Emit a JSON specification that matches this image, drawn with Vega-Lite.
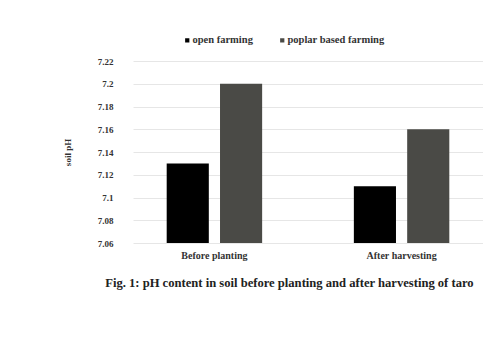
{
  "$schema": "https://vega.github.io/schema/vega-lite/v6.json",
  "width": 350,
  "height": 182,
  "autosize": {"type": "none"},
  "padding": {"left": 133, "top": 61, "right": 0, "bottom": 110},
  "background": "white",
  "data": {
    "values": [
      {"stage": "Before planting", "system": "open farming", "ph": 7.13},
      {"stage": "Before planting", "system": "poplar based farming", "ph": 7.2},
      {"stage": "After harvesting", "system": "open farming", "ph": 7.11},
      {"stage": "After harvesting", "system": "poplar based farming", "ph": 7.16}
    ]
  },
  "title": {
    "text": "Fig. 1: pH content in soil before planting and after harvesting of taro",
    "orient": "bottom",
    "anchor": "start",
    "dx": 42,
    "offset": 17,
    "font": "Liberation Serif",
    "fontSize": 12.6,
    "fontWeight": "bold",
    "color": "#222222"
  },
  "mark": {"type": "bar", "clip": true},
  "encoding": {
    "x": {
      "field": "stage",
      "type": "nominal",
      "sort": ["Before planting", "After harvesting"],
      "scale": {"paddingInner": 0.49, "paddingOuter": 0.18},
      "axis": {
        "title": null,
        "labelAngle": 0,
        "domain": false,
        "ticks": false,
        "labelPadding": 7,
        "labelFont": "Liberation Serif",
        "labelFontSize": 10,
        "labelFontWeight": "bold",
        "labelColor": "#333333"
      }
    },
    "xOffset": {
      "field": "system",
      "type": "nominal",
      "scale": {"paddingInner": 0.21}
    },
    "y": {
      "field": "ph",
      "type": "quantitative",
      "scale": {"domain": [7.06, 7.22], "zero": false, "nice": false},
      "axis": {
        "title": "soil pH",
        "values": [7.06, 7.08, 7.1, 7.12, 7.14, 7.16, 7.18, 7.2, 7.22],
        "format": ".3~r",
        "domain": false,
        "ticks": false,
        "labelPadding": 20,
        "gridColor": "#e6e6e6",
        "gridWidth": 1,
        "labelFont": "Liberation Serif",
        "labelFontSize": 9,
        "labelFontWeight": "bold",
        "labelColor": "#333333",
        "titleFont": "Liberation Serif",
        "titleFontSize": 9,
        "titleFontWeight": "bold",
        "titleColor": "#333333",
        "titlePadding": 25
      }
    },
    "color": {
      "field": "system",
      "type": "nominal",
      "scale": {"domain": ["open farming", "poplar based farming"], "range": ["#000000", "#4a4a46"]},
      "legend": {
        "title": null,
        "orient": "none",
        "direction": "horizontal",
        "legendX": 49,
        "legendY": -26,
        "symbolType": "square",
        "symbolSize": 18,
        "symbolStrokeWidth": 0,
        "labelOffset": 0,
        "columnPadding": 24,
        "labelFont": "Liberation Serif",
        "labelFontSize": 10.5,
        "labelFontWeight": "bold",
        "labelColor": "#333333"
      }
    }
  },
  "config": {"view": {"stroke": null}}
}
